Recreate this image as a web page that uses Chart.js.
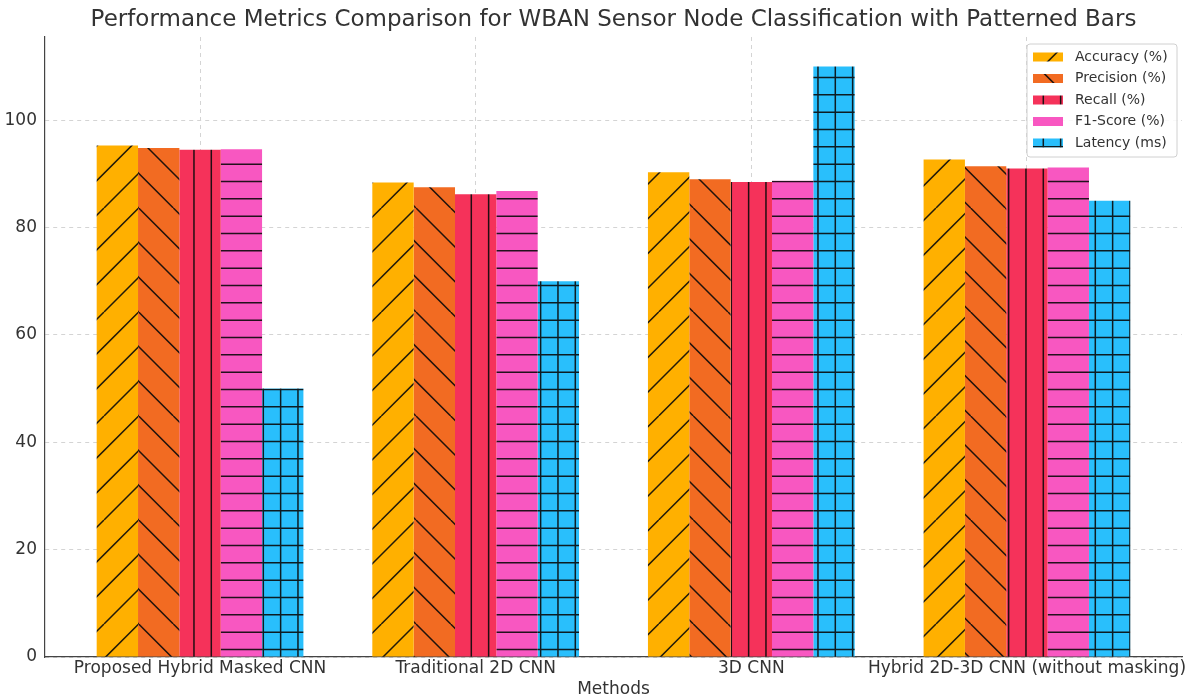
<!DOCTYPE html>
<html>
<head>
<meta charset="utf-8">
<script src="https://cdn.jsdelivr.net/npm/chart.js@4/dist/chart.umd.min.js"></script>
<style>
  body { margin: 0; background: #fff; }
  #chart { display: block; }
</style>
</head>
<body>
<canvas id="chart" width="1188" height="700"></canvas>
<script>
const methods = ['Proposed Hybrid Masked CNN', 'Traditional 2D CNN', '3D CNN', 'Hybrid 2D-3D CNN (without masking)'];
const accuracy = [95.3, 88.4, 90.3, 92.7];
const precision = [94.8, 87.5, 89.0, 91.4];
const recall = [94.5, 86.2, 88.5, 91.0];
const f1Score = [94.6, 86.8, 88.7, 91.2];
const latency = [50, 70, 110, 85];
const yTicks = [0, 20, 40, 60, 80, 100];

const FONT = "'DejaVu Sans', sans-serif";
const TEXT = '#333';

// hatch patterns, like matplotlib's '/', '\\', '|', '-', '+'
function makePattern(bg, kind) {
  const size = kind === '/' || kind === '\\' ? 104 : 52;
  const step = 52 / 3;
  const c = document.createElement('canvas');
  c.width = size; c.height = size;
  const g = c.getContext('2d');
  g.fillStyle = bg;
  g.fillRect(0, 0, size, size);
  g.strokeStyle = 'rgba(10,10,10,0.9)';
  g.lineWidth = 1.5;
  g.beginPath();
  if (kind === '/') {
    for (let s = -2 * step; s < 2 * size + 2 * step; s += 2 * step) {
      g.moveTo(s, 0); g.lineTo(s - size, size);
    }
  } else if (kind === '\\') {
    for (let s = -size - 2 * step; s < size + 2 * step; s += 2 * step) {
      g.moveTo(s, 0); g.lineTo(s + size, size);
    }
  }
  if (kind === '-' || kind === '+') {
    for (let y = 8.2; y < size; y += step) { g.moveTo(0, y); g.lineTo(size, y); }
  }
  if (kind === '|' || kind === '+') {
    for (let x = 3.3; x < size; x += step) { g.moveTo(x, 0); g.lineTo(x, size); }
  }
  g.stroke();
  return g.createPattern(c, 'repeat');
}

const series = [
  { label: 'Accuracy (%)', data: accuracy, color: '#FFB000', hatch: '/' },
  { label: 'Precision (%)', data: precision, color: '#F26B22', hatch: '\\' },
  { label: 'Recall (%)', data: recall, color: '#F5325A', hatch: '|' },
  { label: 'F1-Score (%)', data: f1Score, color: '#F857C1', hatch: '-' },
  { label: 'Latency (ms)', data: latency, color: '#29BFFC', hatch: '+' }
];

const datasets = series.map(s => ({
  label: s.label,
  data: s.data.map((v, i) => ({ x: i, y: v })),
  backgroundColor: makePattern(s.color, s.hatch),
  borderWidth: 0,
  categoryPercentage: 0.75,
  barPercentage: 1
}));

// matplotlib-like legend box in the upper right
const boxLegend = {
  id: 'boxLegend',
  afterDraw(chart) {
    const ctx = chart.ctx;
    const area = chart.chartArea;
    const w = 150, h = 113;
    const lx = area.right - w - 5, ly = area.top + 7;
    ctx.save();
    ctx.beginPath();
    ctx.roundRect(lx, ly, w, h, 3);
    ctx.fillStyle = 'rgba(255,255,255,0.85)';
    ctx.fill();
    ctx.strokeStyle = '#d0d0d0';
    ctx.lineWidth = 1;
    ctx.stroke();
    ctx.font = '14px ' + FONT;
    ctx.textBaseline = 'middle';
    chart.data.datasets.forEach((ds, i) => {
      const cy = ly + 13 + i * 21.5;
      ctx.fillStyle = ds.backgroundColor;
      ctx.fillRect(lx + 6, cy - 4.5, 30, 9);
      ctx.fillStyle = TEXT;
      ctx.fillText(ds.label, lx + 48, cy);
    });
    ctx.restore();
  }
};

new Chart(document.getElementById('chart'), {
  type: 'bar',
  data: { datasets: datasets },
  plugins: [boxLegend],
  options: {
    responsive: false,
    animation: false,
    layout: { padding: { left: 0, right: 6, top: 0, bottom: 0 } },
    plugins: {
      legend: { display: false },
      tooltip: { enabled: false },
      title: {
        display: true,
        fullSize: false,
        text: 'Performance Metrics Comparison for WBAN Sensor Node Classification with Patterned Bars',
        color: TEXT,
        font: { family: FONT, size: 23, weight: 'normal' },
        padding: { top: 6, bottom: 3.4 }
      }
    },
    scales: {
      x: {
        type: 'linear',
        min: -0.5625,
        max: 3.5625,
        offset: false,
        z: 1,
        afterBuildTicks: s => { s.ticks = methods.map((m, i) => ({ value: i })); },
        afterFit: s => { s.height = 43; },
        ticks: {
          callback: v => methods[v] ?? '',
          color: TEXT,
          font: { family: FONT, size: 17 },
          maxRotation: 0,
          autoSkip: false,
          padding: 1
        },
        grid: { color: 'rgba(170,170,170,0.5)', offset: false, drawTicks: false },
        border: { color: '#444', width: 1.2, dash: [4, 4] },
        title: {
          display: true,
          text: 'Methods',
          color: TEXT,
          font: { family: FONT, size: 17 },
          padding: { top: 0, bottom: 0 }
        }
      },
      y: {
        min: 0,
        max: 115.5,
        afterBuildTicks: s => { s.ticks = yTicks.map(v => ({ value: v })); },
        afterFit: s => { s.width = 45; },
        ticks: {
          color: TEXT,
          font: { family: FONT, size: 17 },
          padding: 8
        },
        grid: { color: '#d4d4d4', drawTicks: false },
        border: { color: '#444', width: 1.2, dash: [4, 4] }
      }
    }
  }
});
</script>
</body>
</html>
